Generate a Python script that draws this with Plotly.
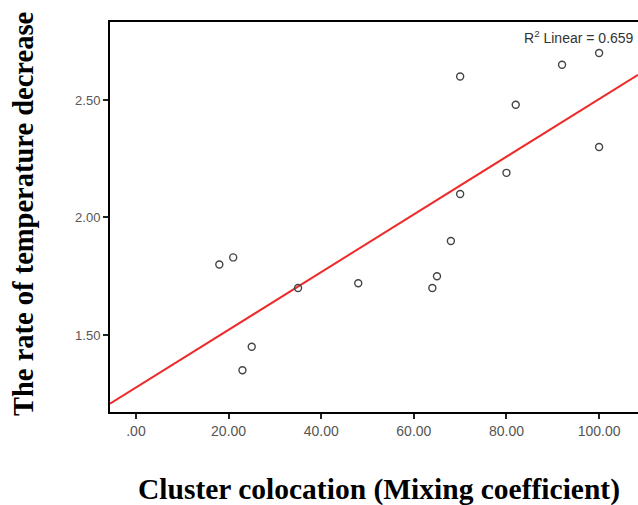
import numpy as np
import plotly.graph_objects as go

# Data
mixing = [18, 21, 23, 25, 35, 48, 64, 65, 68, 70, 70, 80, 82, 92, 100, 100]
rate = [1.80, 1.83, 1.35, 1.45, 1.70, 1.72, 1.70, 1.75, 1.90, 2.10, 2.60, 2.19, 2.48, 2.65, 2.30, 2.70]
x_tickvals = [0, 20, 40, 60, 80, 100]
x_ticktext = [".00", "20.00", "40.00", "60.00", "80.00", "100.00"]
y_tickvals = [1.5, 2.0, 2.5]
y_ticktext = ["1.50", "2.00", "2.50"]

X_RANGE = [-5.6, 108.4]
Y_RANGE = [1.172, 2.832]

W, H = 638, 505
ML, MR, MT, MB = 110, 0, 22, 93

x = np.array(mixing, dtype=float)
y = np.array(rate, dtype=float)
slope, intercept = np.polyfit(x, y, 1)
pred = slope * x + intercept
r2 = 1 - np.sum((y - pred) ** 2) / np.sum((y - y.mean()) ** 2)
lx = np.array(X_RANGE)
ly = slope * lx + intercept

pw = W - ML - MR
ph = H - MT - MB


def px_x(p):
    return (p - ML) / pw


def px_y(p):
    return (H - MB - p) / ph


fig = go.Figure()
fig.add_trace(go.Scatter(x=lx, y=ly, mode="lines",
                         line=dict(color="#ee2b2b", width=2), hoverinfo="skip"))
fig.add_trace(go.Scatter(x=mixing, y=rate, mode="markers",
                         marker=dict(symbol="circle-open", size=7, color="#444444",
                                     line=dict(width=1.4, color="#444444"))))

fig.update_layout(
    width=W, height=H,
    margin=dict(l=ML, r=MR, t=MT, b=MB, pad=0),
    paper_bgcolor="white", plot_bgcolor="white",
    showlegend=False,
    xaxis=dict(range=X_RANGE, tickvals=x_tickvals, ticktext=x_ticktext,
               showgrid=False, zeroline=False, showline=True, linecolor="black",
               linewidth=2, mirror=True, ticks="outside", ticklen=5, tickwidth=1.5,
               tickcolor="#222", tickfont=dict(family="Liberation Sans, Arial", size=14, color="#555555")),
    yaxis=dict(range=Y_RANGE, tickvals=y_tickvals, ticktext=y_ticktext,
               showgrid=False, zeroline=False, showline=True, linecolor="black",
               linewidth=2, mirror=False, ticks="outside", ticklen=5, tickwidth=1.5,
               tickcolor="#222", tickfont=dict(family="Liberation Sans, Arial", size=13, color="#555555")),
    annotations=[
        dict(text="<b>Cluster colocation (Mixing coefficient)</b>", xref="paper", yref="paper",
             x=px_x(379), y=px_y(489), xanchor="center", yanchor="middle", showarrow=False,
             font=dict(family="Liberation Serif, Times New Roman", size=29.5, color="black")),
        dict(text="<b>The rate of temperature decrease</b>", xref="paper", yref="paper",
             x=px_x(23), y=px_y(214), xanchor="center", yanchor="middle", showarrow=False,
             textangle=-90,
             font=dict(family="Liberation Serif, Times New Roman", size=28.5, color="black")),
        dict(text="R<sup>2</sup> Linear = %.3f" % r2, xref="paper", yref="paper",
             x=px_x(636), y=px_y(37), xanchor="right", yanchor="middle", showarrow=False,
             font=dict(family="Liberation Sans, Arial", size=14, color="#333333")),
    ],
)

fig.write_html("out.html")
